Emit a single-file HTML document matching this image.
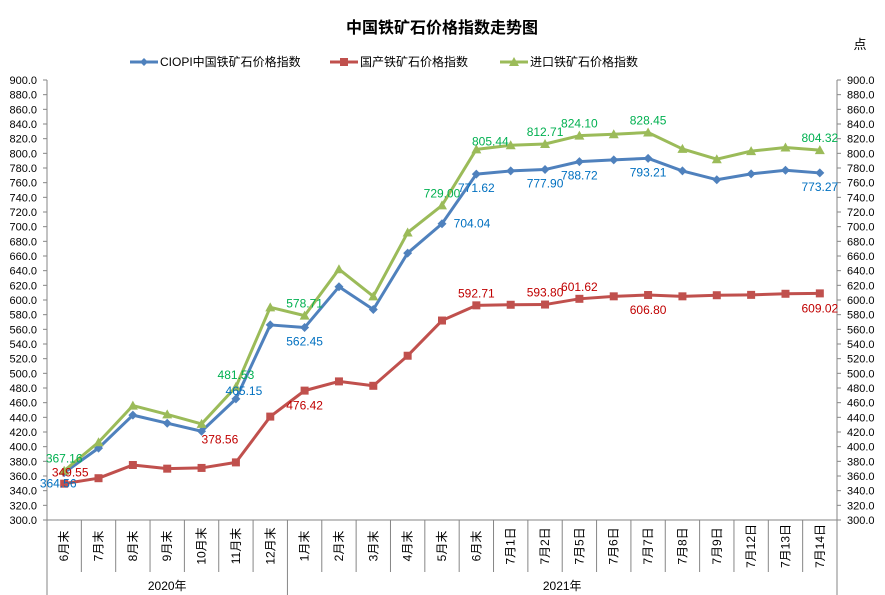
<!DOCTYPE html>
<html><head><meta charset="utf-8">
<style>
body{margin:0;background:#fff;}
svg{display:block;font-family:"Liberation Sans","Noto Sans CJK SC",sans-serif;}
</style></head>
<body>
<svg id="chart" width="885" height="595" viewBox="0 0 885 595">
<text x="442" y="33" text-anchor="middle" font-size="16" font-weight="bold" fill="#000">中国铁矿石价格指数走势图</text>
<text x="860" y="49" text-anchor="middle" font-size="13">点</text>
<g>
 <g><line x1="130" y1="62" x2="158" y2="62" stroke="#4F81BD" stroke-width="3"/><path d="M144 58 L148 62 L144 66 L140 62Z" fill="#4F81BD"/><text x="160" y="66" font-size="12">CIOPI中国铁矿石价格指数</text></g>
 <g><line x1="330" y1="62" x2="358" y2="62" stroke="#C0504D" stroke-width="3"/><rect x="340" y="58" width="8" height="8" fill="#C0504D"/><text x="360" y="66" font-size="12">国产铁矿石价格指数</text></g>
 <g><line x1="500" y1="62" x2="528" y2="62" stroke="#9BBB59" stroke-width="3"/><path d="M514 57 L519 66 L509 66Z" fill="#9BBB59"/><text x="530" y="66" font-size="12">进口铁矿石价格指数</text></g>
</g>
<g id="plot"></g>
</svg>
<script>
const categories=["6月末","7月末","8月末","9月末","10月末","11月末","12月末","1月末","2月末","3月末","4月末","5月末","6月末","7月1日","7月2日","7月5日","7月6日","7月7日","7月8日","7月9日","7月12日","7月13日","7月14日"];
const yearLabels=["2020年","2021年"];
const yearStarts=[0,7];
const ciopiValues=[364.56,398,443,432,421,465.15,566,562.45,618,587,664,704.04,771.62,776,777.90,788.72,791,793.21,776,764,772,777,773.27];
const domesticValues=[349.55,357,375,370,371,378.56,441,476.42,489,483,524,572,592.71,593.5,593.80,601.62,605,606.80,605,606.5,607,608.5,609.02];
const importValues=[367.16,406,456,444,431,481.53,590,578.71,642,605,692,729.00,805.44,811,812.71,824.10,826,828.45,806,792,803,808,804.32];
const yTicks=[300,320,340,360,380,400,420,440,460,480,500,520,540,560,580,600,620,640,660,680,700,720,740,760,780,800,820,840,860,880,900];
const ciopiLabelIdx=[0,5,7,11,12,14,15,17,22];
const domesticLabelIdx=[0,5,7,12,14,15,17,22];
const importLabelIdx=[0,5,7,11,12,14,15,17,22];

const L=47,R=837,T=80,B=520,yMin=300,yMax=900;
const cw=(R-L)/categories.length;
const X=i=>L+cw*(i+0.5);
const Y=v=>B-(v-yMin)/(yMax-yMin)*(B-T);
const NS="http://www.w3.org/2000/svg";
const plot=document.getElementById('plot');
function mk(tag,attrs,parent){const e=document.createElementNS(NS,tag);for(const k in attrs)e.setAttribute(k,attrs[k]);(parent||plot).appendChild(e);return e;}

// axes
let e=mk('line',{x1:L,y1:T,x2:L,y2:595,stroke:'#868686'});


e=mk('line',{x1:R,y1:T,x2:R,y2:595,stroke:'#868686'});


e=mk('line',{x1:L,y1:B,x2:R,y2:B,stroke:'#868686'});


yTicks.forEach(v=>{
  const y=Y(v);
  mk('line',{x1:L-4,y1:y,x2:L,y2:y,stroke:'#868686'});
  mk('line',{x1:R,y1:y,x2:R+4,y2:y,stroke:'#868686'});
  let t=mk('text',{x:L-10,y:y+4,'text-anchor':'end','font-size':11});
  t.textContent=v.toFixed(1);
  
  
  t=mk('text',{x:R+10,y:y+4,'text-anchor':'start','font-size':11});
  t.textContent=v.toFixed(1);
  
  
});
categories.forEach((c,i)=>{
  const xr=L+cw*(i+1);
  if(i<categories.length-1){
    const full=yearStarts.includes(i+1);
    mk('line',{x1:xr,y1:B,x2:xr,y2:full?595:572,stroke:'#868686'});
  }
  const t=mk('text',{x:0,y:0,'text-anchor':'middle','font-size':12,transform:`translate(${X(i)+4},546) rotate(-90)`});
  t.textContent=c;
  
  
});
yearLabels.forEach((y,k)=>{
  const s=yearStarts[k],en=k+1<yearStarts.length?yearStarts[k+1]:categories.length;
  const t=mk('text',{x:L+cw*(s+en)/2,y:590,'text-anchor':'middle','font-size':12});
  t.textContent=y;
  
  
});

function series(vals,color,shape,name){
  const g=mk('g',{});
  
  
  const p=mk('polyline',{points:vals.map((v,i)=>X(i)+','+Y(v)).join(' '),fill:'none',stroke:color,'stroke-width':3,'stroke-linejoin':'round'},g);
  
  
  vals.forEach((v,i)=>{
    const x=X(i),y=Y(v);let m;
    if(shape==='d')m=mk('path',{d:`M${x} ${y-4.5}L${x+4.5} ${y}L${x} ${y+4.5}L${x-4.5} ${y}Z`,fill:color},g);
    else if(shape==='s')m=mk('rect',{x:x-4,y:y-4,width:8,height:8,fill:color},g);
    else m=mk('path',{d:`M${x} ${y-5}L${x+5} ${y+4}L${x-5} ${y+4}Z`,fill:color},g);
    
    
  });
}
series(domesticValues,'#C0504D','s','domestic');
series(ciopiValues,'#4F81BD','d','ciopi');
series(importValues,'#9BBB59','t','import');

function labels(vals,idx,color,name,off){
  idx.forEach(i=>{
    const o=off(i);
    const t=mk('text',{x:X(i)+o[0],y:Y(vals[i])+o[1],'text-anchor':'middle','font-size':12,fill:color});
    t.textContent=vals[i].toFixed(2);
    
    
  });
}
labels(importValues,importLabelIdx,'#00B050','import',i=>i===12?[14,-4]:[0,-8]);
labels(ciopiValues,ciopiLabelIdx,'#0070C0','ciopi',i=>i===0?[-6,15]:i===11?[30,4]:i===5?[8,-4]:[0,18]);
labels(domesticValues,domesticLabelIdx,'#C00000','domestic',i=>i===0?[6,-7]:i===5?[-16,-19]:(i===7||i===17||i===22)?[0,19]:[0,-8]);
</script>
</body></html>
